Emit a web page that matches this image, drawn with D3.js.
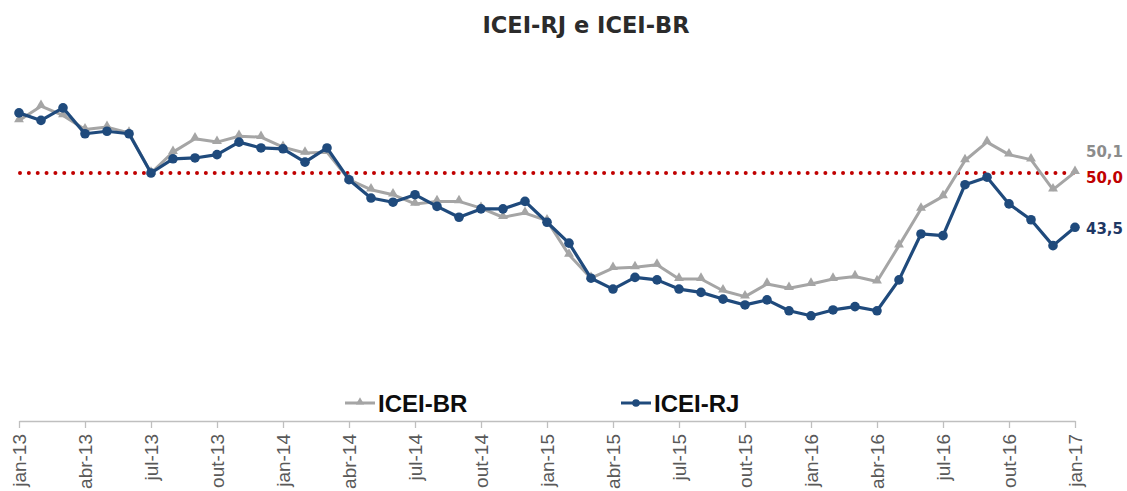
<!DOCTYPE html>
<html>
<head>
<meta charset="utf-8">
<script src="https://cdn.jsdelivr.net/npm/d3@7"></script>
<style>
  body { margin: 0; background: #fff; }
  svg { display: block; }
</style>
</head>
<body>
<div id="chart"></div>
<script>
// month names and years used to build the categories
var monthNames = ["jan", "fev", "mar", "abr", "mai", "jun", "jul", "ago", "set", "out", "nov", "dez"];
var years = ["13", "14", "15", "16", "17"];

// ICEI-BR (grey, triangles)
var iceiBR = [56.3, 58.0, 56.9, 55.2, 55.5, 54.8, 50.0, 52.5, 54.1, 53.7, 54.4, 54.3,
              53.1, 52.4, 52.5, 49.2, 48.0, 47.4, 46.3, 46.6, 46.6, 45.8, 44.7, 45.2,
              44.3, 40.2, 37.4, 38.6, 38.7, 39.0, 37.3, 37.3, 35.9, 35.2, 36.7, 36.2,
              36.7, 37.3, 37.6, 37.0, 41.3, 45.7, 47.2, 51.5, 53.7, 52.2, 51.6, 48.0,
              50.1];

// ICEI-RJ (blue, circles)
var iceiRJ = [57.2, 56.3, 57.8, 54.7, 55.0, 54.7, 50.0, 51.7, 51.8, 52.2, 53.7, 53.0,
              52.9, 51.3, 53.0, 49.2, 47.0, 46.5, 47.4, 46.0, 44.7, 45.7, 45.7, 46.6,
              44.1, 41.6, 37.4, 36.1, 37.5, 37.2, 36.1, 35.7, 34.9, 34.2, 34.8, 33.5,
              32.9, 33.6, 34.0, 33.5, 37.2, 42.7, 42.5, 48.6, 49.5, 46.3, 44.4, 41.3,
              43.5];

var refValue = 50.0;

var categories = [];
years.forEach(function(y){
    monthNames.forEach(function(m){
        categories.push(m + "-" + y);
    });
});
categories = categories.slice(0, iceiBR.length);   // jan-13 .. jan-17

var svgWidth = 1127, svgHeight = 491;
var grey = "#a5a5a5", blue = "#1f4a7c", red = "#c00000";

var svg = d3.select("#chart").append("svg")
    .attr("width", svgWidth)
    .attr("height", svgHeight);

// scales
var xScale = d3.scalePoint()
    .domain(categories)
    .range([19, 1075]);

var yScale = d3.scaleLinear()
    .domain([25, 65])
    .range([381.75, 47.75]);

// title
svg.append("text")
    .attr("x", 586)
    .attr("y", 33)
    .attr("text-anchor", "middle")
    .attr("font-family", "DejaVu Sans")
    .attr("font-weight", "bold")
    .attr("font-size", 22.5)
    .attr("fill", "#2b2b2b")
    .text("ICEI-RJ e ICEI-BR");

// x axis
var tickCats = categories.filter(function(d, i){ return i % 3 == 0; });
var xAxis = svg.append("g")
    .attr("transform", "translate(0, 421)")
    .call(d3.axisBottom(xScale).tickValues(tickCats).tickSize(7).tickSizeOuter(0));

xAxis.select(".domain").attr("stroke", "#bfbfbf").attr("stroke-width", 1.3);
xAxis.selectAll(".tick line").attr("stroke", "#bfbfbf").attr("stroke-width", 1.3);
xAxis.selectAll(".tick text")
    .attr("transform", "rotate(-90)")
    .attr("text-anchor", "end")
    .attr("x", -13)
    .attr("y", 0)
    .attr("dy", "0.35em")
    .attr("font-family", "Liberation Sans")
    .attr("font-size", 19)
    .attr("fill", "#595959");

// reference line at 50
svg.append("line")
    .attr("x1", xScale(categories[0]) + 1)
    .attr("x2", xScale(categories[categories.length - 1]))
    .attr("y1", yScale(refValue))
    .attr("y2", yScale(refValue))
    .attr("stroke", red)
    .attr("stroke-width", 4)
    .attr("stroke-linecap", "round")
    .attr("stroke-dasharray", "0 8.85");

var line = d3.line()
    .x(function(d, i){ return xScale(categories[i]); })
    .y(function(d){ return yScale(d); });

// ICEI-BR
svg.append("path")
    .datum(iceiBR)
    .attr("d", line)
    .attr("fill", "none")
    .attr("stroke", grey)
    .attr("stroke-width", 3)
    .attr("stroke-linejoin", "round");

var triangle = d3.symbol().type(d3.symbolTriangle).size(42);
svg.append("g").selectAll("path")
    .data(iceiBR)
    .enter()
    .append("path")
    .attr("d", triangle)
    .attr("transform", function(d, i){ return "translate(" + xScale(categories[i]) + "," + (yScale(d) - 1) + ")"; })
    .attr("fill", grey);

// ICEI-RJ
svg.append("path")
    .datum(iceiRJ)
    .attr("d", line)
    .attr("fill", "none")
    .attr("stroke", blue)
    .attr("stroke-width", 3.2)
    .attr("stroke-linejoin", "round");

svg.append("g").selectAll("circle")
    .data(iceiRJ)
    .enter()
    .append("circle")
    .attr("cx", function(d, i){ return xScale(categories[i]); })
    .attr("cy", function(d){ return yScale(d); })
    .attr("r", 4.8)
    .attr("fill", blue);

// end labels
var lastX = xScale(categories[categories.length - 1]) + 11;
var endLabels = [
    {v: iceiBR[iceiBR.length - 1], dy: -21, color: "#8c8c8c"},
    {v: refValue, dy: 5, color: red},
    {v: iceiRJ[iceiRJ.length - 1], dy: 1, color: "#1f3864"}
];
svg.append("g").selectAll("text")
    .data(endLabels)
    .enter()
    .append("text")
    .attr("x", lastX)
    .attr("y", function(d){ return yScale(d.v) + d.dy; })
    .attr("dy", "0.36em")
    .attr("font-family", "DejaVu Sans")
    .attr("font-weight", "bold")
    .attr("font-size", 15)
    .attr("fill", function(d){ return d.color; })
    .text(function(d){ return d.v.toFixed(1).replace(".", ","); });

// legend
var legend = svg.append("g").attr("transform", "translate(0, 403)");
var items = [
    {name: "ICEI-BR", x: 345, color: grey, shape: "triangle"},
    {name: "ICEI-RJ", x: 621, color: blue, shape: "circle"}
];
items.forEach(function(it){
    legend.append("line")
        .attr("x1", it.x).attr("x2", it.x + 30)
        .attr("y1", 0).attr("y2", 0)
        .attr("stroke", it.color)
        .attr("stroke-width", 3);
    if (it.shape == "triangle") {
        legend.append("path")
            .attr("d", d3.symbol().type(d3.symbolTriangle).size(30))
            .attr("transform", "translate(" + (it.x + 15) + ",-1)")
            .attr("fill", it.color);
    } else {
        legend.append("circle")
            .attr("cx", it.x + 15).attr("cy", 0).attr("r", 3.8)
            .attr("fill", it.color);
    }
    legend.append("text")
        .attr("x", it.x + 33)
        .attr("y", 0)
        .attr("dy", "0.36em")
        .attr("font-family", "Liberation Sans")
        .attr("font-weight", "bold")
        .attr("font-size", 24)
        .attr("fill", "#0d0d0d")
        .text(it.name);
});
</script>
</body>
</html>
